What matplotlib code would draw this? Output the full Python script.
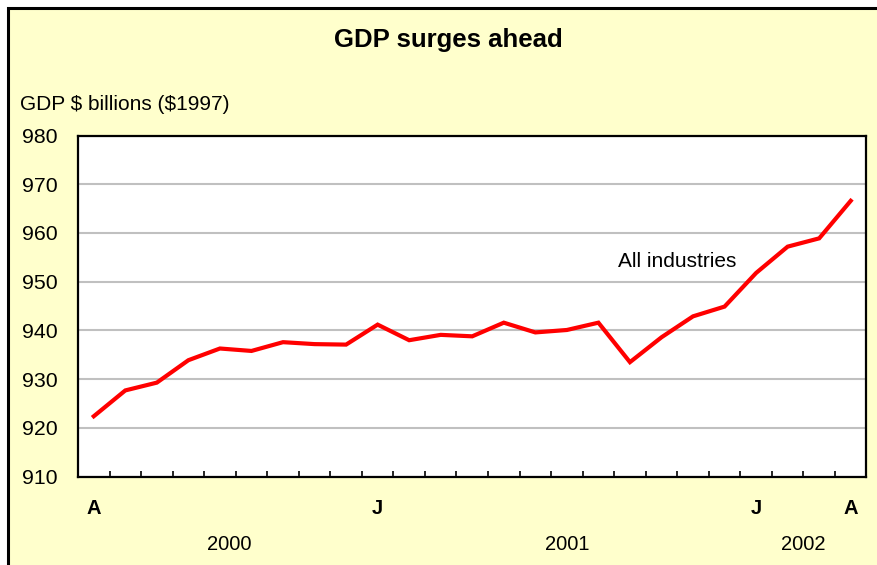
import matplotlib
matplotlib.use("Agg")
import matplotlib.pyplot as plt
from matplotlib.patches import Rectangle
from matplotlib.transforms import blended_transform_factory

plt.rcParams['font.family'] = ['Liberation Sans', 'DejaVu Sans']
plt.rcParams['text.usetex'] = False

# Data: monthly GDP, April 2000 .. April 2002
gdp = [922.4, 927.7, 929.3, 933.9, 936.3, 935.8, 937.6, 937.2, 937.1,
       941.2, 938.0, 939.1, 938.8, 941.6, 939.6, 940.1, 941.6, 933.5,
       938.6, 942.9, 944.9, 951.8, 957.2, 958.9, 966.6]
month_labels = ['A', 'J', 'J', 'A']
month_pos = [0, 9, 21, 24]
year_labels = ['2000', '2001', '2002']
year_pos = [4.3, 15.0, 22.5]
yticks = [910, 920, 930, 940, 950, 960, 970, 980]
series_label = 'All industries'
title = 'GDP surges ahead'
ylabel = 'GDP \\$ billions (\\$1997)'

W, H = 878, 565
fig = plt.figure(figsize=(W / 100, H / 100), dpi=100)
fig.patch.set_facecolor('white')

# yellow panel with black border on left/top
bg = Rectangle((8 / W, -0.1), 1.2, 1 - 8 / H + 0.1, transform=fig.transFigure,
               facecolor='#FFFFCC', edgecolor='black', linewidth=2.2, zorder=-10)
fig.patches.append(bg)

ax = fig.add_axes([78 / W, 1 - 476.7 / H, (866.5 - 78) / W, (476.7 - 135.5) / H])
ax.set_facecolor('white')

x = list(range(len(gdp)))
ax.plot(x, gdp, color='#FF0000', linewidth=3.0, solid_joinstyle='miter', zorder=3)

ax.set_xlim(-0.5, len(gdp) - 0.5)
ax.set_ylim(910, 980)
ax.set_yticks(yticks)
ax.set_yticklabels([str(v) for v in yticks], fontsize=15.3)
ax.tick_params(axis='y', length=0, pad=15)
ax.yaxis.grid(True, color='#C0C0C0', linewidth=1.5)
ax.set_axisbelow(True)

# category boundary ticks
ax.set_xticks([i + 0.5 for i in range(len(gdp) - 1)])
ax.set_xticklabels([])
ax.tick_params(axis='x', direction='in', length=4, width=1.2, color='black')

for s in ax.spines.values():
    s.set_linewidth(1.6)
    s.set_color('black')

trans = blended_transform_factory(ax.transData, fig.transFigure)
for lab, p in zip(month_labels, month_pos):
    ax.text(p, 1 - 509 / H, lab, transform=trans, ha='center', va='center',
            fontsize=14.5, fontweight='bold')
for lab, p in zip(year_labels, year_pos):
    ax.text(p, 1 - 545 / H, lab, transform=trans, ha='center', va='center',
            fontsize=14.5)

ax.text(18.5, 954.1, series_label, ha='center', va='center', fontsize=15)

fig.text(448 / W, 1 - 40 / H, title, ha='center', va='center',
         fontsize=18.5, fontweight='bold')
fig.text(20 / W, 1 - 104 / H, ylabel, ha='left', va='center', fontsize=15)

fig.savefig('out.png', dpi=100, facecolor=fig.get_facecolor())
